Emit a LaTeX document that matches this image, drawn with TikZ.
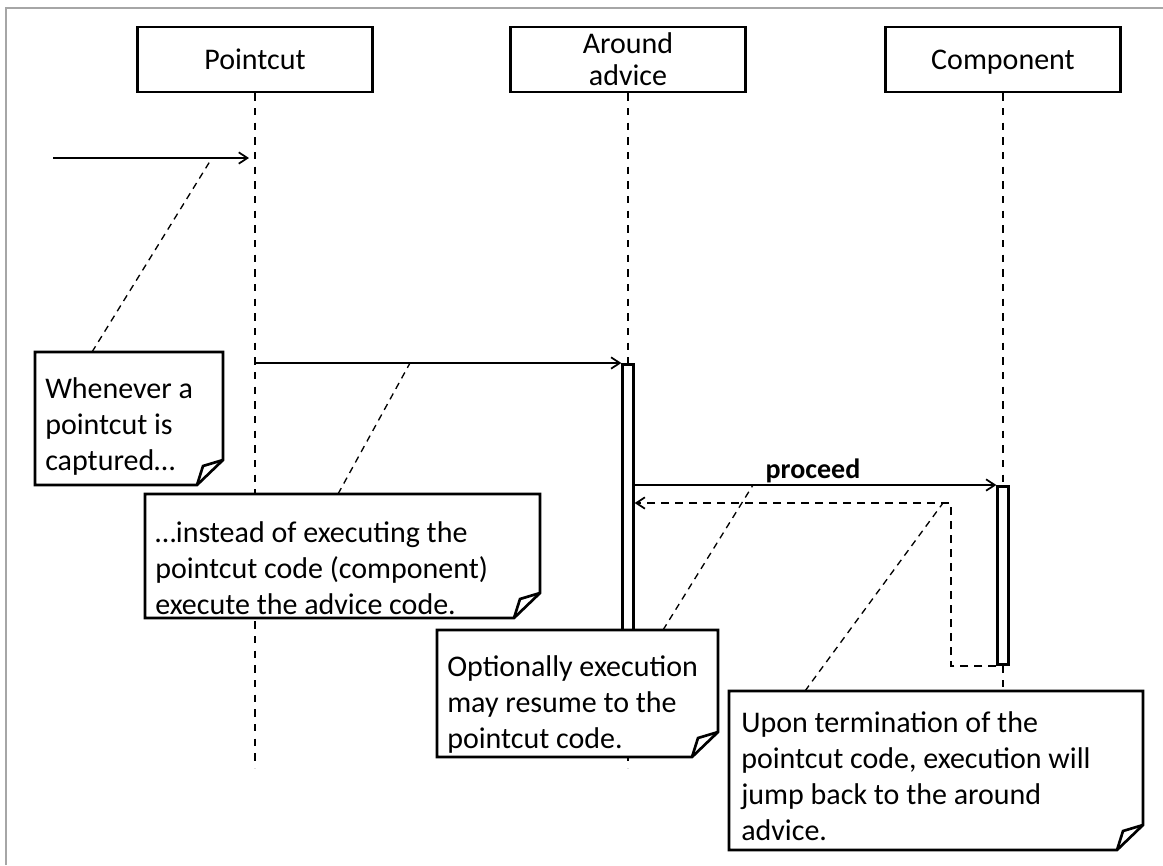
\documentclass[tikz,border=0pt]{standalone}
\usepackage{fontspec}
\setmainfont{Carlito}
\usetikzlibrary{arrows.meta,calc}

% note with a folded bottom-right corner:
% name, x1, y1, x2, y2, text x, baseline y of the last line, text
\newcommand\dognote[8]{%
  \node[notearea, anchor=north west,
        minimum width={(#4-#2)*0.75pt}, minimum height={(#5-#3)*0.75pt}] (#1) at (#2,#3) {};
  \draw[noteline] (#1.north west) -- (#1.north east) -- ($(#1.south east)+(0,-25)$)
     -- ($(#1.south east)+(-26,0)$) -- (#1.south west) -- cycle;
  \draw[noteline] ($(#1.south east)+(-26,0)$) -- ($(#1.south east)+(-20,-19)$)
     -- ($(#1.south east)+(0,-25)$);
  \node[notetext, anchor=base west] (#1-text) at (#6,#7) {#8};
}

\begin{document}
\begin{tikzpicture}[x=0.75pt, y=-0.75pt,
  txt/.style={font=\fontsize{22.5}{27}\selectfont},
  lifebox/.style={txt, draw, line width=2pt, fill=white, inner sep=0pt,
    minimum width=176.5pt, minimum height=48.75pt, align=center},
  oneline/.style={text height=20pt, text depth=4.5pt},
  lifeline/.style={line width=0.8pt, dash pattern=on 5.5pt off 5.5pt},
  actbox/.style={draw, line width=2pt, fill=white, inner sep=0pt,
    minimum width=8pt, anchor=north},
  msg/.style={line width=1.3pt, -{Straight Barb[length=6.5pt, width=8.5pt]}},
  reply/.style={line width=1.3pt, dash pattern=on 6pt off 4.5pt,
    -{Straight Barb[length=6.5pt, width=8.5pt]}},
  hook/.style={line width=1pt, dash pattern=on 5pt off 4pt},
  notearea/.style={fill=white, draw=none, inner sep=0pt, outer sep=0pt},
  noteline/.style={line width=2pt, line join=miter},
  notetext/.style={txt, inner sep=0pt, align=left},
]
\useasboundingbox (0,0) rectangle (1163,865);

% frame
\draw[gray!70, line width=1pt] (6,865) -- (6,8) -- (1163,8);

% participants
\node[lifebox, oneline] (P) at (255,59.5) {Pointcut};
\node[lifebox, font=\fontsize{22.5}{24}\selectfont] (A) at (628,59.5) {Around\\advice};
\node[lifebox, oneline] (C) at (1003,59.5) {Component};

\coordinate (Pend) at (255,768);
\coordinate (Aend) at (628,768);
\coordinate (Cend) at (1003,768);
\draw[lifeline] (P.south) -- (Pend);
\draw[lifeline] (A.south) -- (Aend);
\draw[lifeline] (C.south) -- (Cend);

% activations
\node[actbox, minimum height=252pt] (actA) at (628,363) {};
\node[actbox, minimum height=133.5pt] (actC) at (1003,485) {};

% messages
\coordinate (start) at (53,158);
\coordinate (hit) at (249,158);
\draw[msg] (start) -- (hit);
\draw[msg] (P.south |- actA.north) -- (actA.north west);
\draw[msg] (actA.east |- actC.north) -- (actC.north west);
\node[txt, font=\fontsize{21}{25}\selectfont\bfseries, anchor=base] (plabel) at (813,478) {proceed};
\coordinate (turn) at (951,503);
\draw[reply] (actC.south west) -| (turn) -- (actA.east |- turn);

% notes
\dognote{n1}{35}{352}{223}{485}{45}{470}{Whenever a\\pointcut is\\captured…}
\dognote{n2}{145}{494}{540}{618}{155}{614}{…instead of executing the\\pointcut code (component)\\execute the advice code.}
\dognote{n3}{437}{630}{718}{757}{447}{748}{Optionally execution\\may resume to the\\pointcut code.}
\dognote{n4}{729}{691}{1143}{850}{741}{840}{Upon termination of the\\pointcut code, execution will\\jump back to the around\\advice.}

% note hooks
\coordinate (h1) at (212,158);
\coordinate (h2) at (410,363);
\coordinate (h3) at (753,485);
\coordinate (h4) at (943,503);
\draw[hook] ($(n1.north west)+(57,0)$) -- (h1);
\draw[hook] ($(n2.north west)+(193,0)$) -- (h2);
\draw[hook] ($(n3.north west)+(226,0)$) -- (h3);
\draw[hook] ($(n4.north west)+(76,0)$) -- (h4);
\end{tikzpicture}
\end{document}
